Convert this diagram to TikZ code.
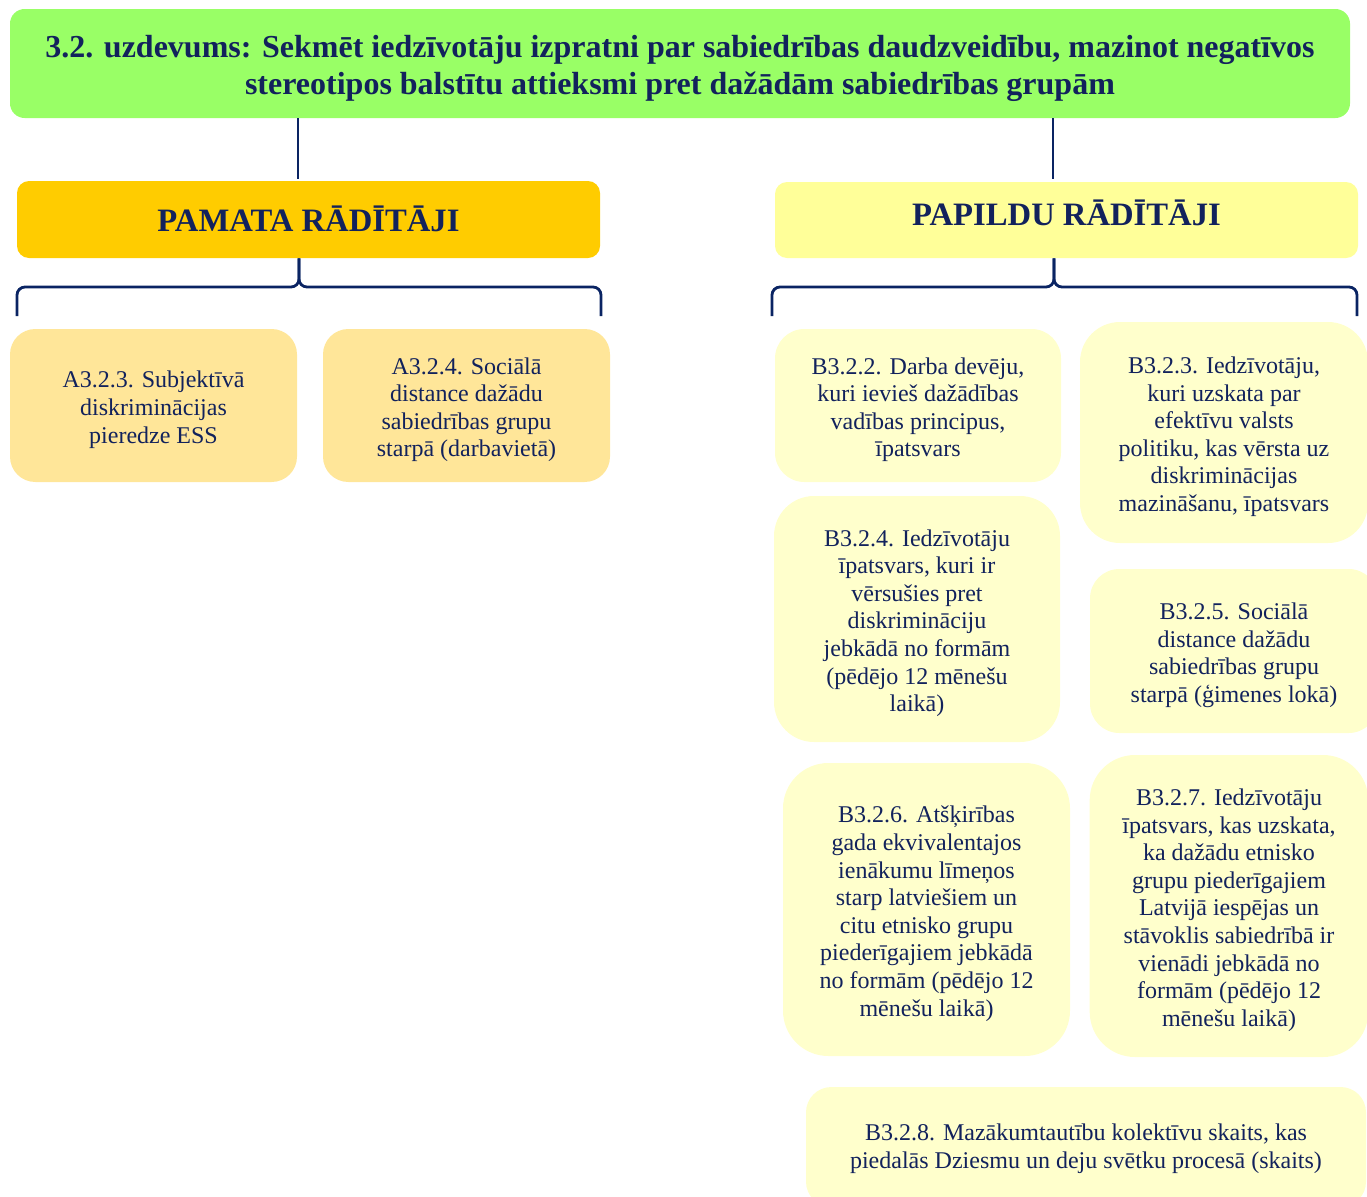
\documentclass[tikz,border=0pt]{standalone}
\usepackage{fontspec}
\setmainfont{Liberation Serif}
\definecolor{navy}{HTML}{12225C}
\definecolor{linec}{HTML}{0A2463}
\definecolor{titlegreen}{HTML}{99FF66}
\definecolor{pamfill}{HTML}{FFCC00}
\definecolor{papfill}{HTML}{FFFF99}
\definecolor{afill}{HTML}{FFE699}
\definecolor{bfill}{HTML}{FFFFCC}
% lines of a box, moved down a little without changing the box size
\newcommand{\txt}[2][-3.3pt]{\raisebox{#1}[\height][\depth]{\begin{tabular}{@{}c@{}}#2\end{tabular}}}
\begin{document}
\begin{tikzpicture}[x=0.75pt,y=-0.75pt,
  base/.style={inner sep=0pt, text=navy, font=\fontsize{18}{20.7}\selectfont},
  titlebox/.style={base, fill=titlegreen, rounded corners=11pt, font=\bfseries\fontsize{24}{27.75}\selectfont},
  headbox/.style={base, rounded corners=9pt, font=\bfseries\fontsize{24.5}{28}\selectfont},
  abox/.style={base, fill=afill, rounded corners=19pt},
  bbox/.style={base, fill=bfill, rounded corners=#1},
  bbox/.default=26pt,
  link/.style={draw=linec, line width=2.1pt},
  bracepath/.style={link, rounded corners=6pt}]
\useasboundingbox (0,0) rectangle (1367,1196);

\node[titlebox, minimum width=1005pt, minimum height=81.75pt] (title) at (680,63.5)
  {\txt[-3.5pt]{3.2. uzdevums: Sekmēt iedzīvotāju izpratni par sabiedrības daudzveidību, mazinot negatīvos\\
   stereotipos balstītu attieksmi pret dažādām sabiedrības grupām}};

\node[headbox, fill=pamfill, minimum width=437.25pt, minimum height=57.75pt] (pam) at (308.5,219.5)
  {\txt[-3.75pt]{PAMATA RĀDĪTĀJI}};
\node[headbox, fill=papfill, minimum width=437.25pt, minimum height=57pt] (pap) at (1066.5,220)
  {\txt[1.3pt]{PAPILDU RĀDĪTĀJI}};

\coordinate (cl) at (298,0);
\coordinate (cr) at (1053,0);
\coordinate (bl) at (299,0);
\coordinate (br) at (1054,0);
\draw[link] (title.south -| cl) -- ([yshift=1.5pt]pam.north -| cl);
\draw[link] (title.south -| cr) -- ([yshift=2.25pt]pap.north -| cr);

% braces
\coordinate (lbl) at (17,316);
\coordinate (lbr) at (601,316);
\coordinate (rbl) at (772,316);
\coordinate (rbr) at (1357,316);
\draw[bracepath] (pam.south -| bl) -- (299,287) -- (17,287) -- (lbl);
\draw[bracepath] (pam.south -| bl) -- (299,287) -- (601,287) -- (lbr);
\draw[bracepath] (pap.south -| br) -- (1054,287) -- (772,287) -- (rbl);
\draw[bracepath] (pap.south -| br) -- (1054,287) -- (1357,287) -- (rbr);

\node[abox, minimum width=215.25pt, minimum height=114.75pt] (a1) at (153.5,405.5)
  {\txt{A3.2.3. Subjektīvā\\diskriminācijas\\pieredze ESS}};
\node[abox, minimum width=215.25pt, minimum height=114.75pt] (a2) at (466.5,405.5)
  {\txt{A3.2.4. Sociālā\\distance dažādu\\sabiedrības grupu\\starpā (darbavietā)}};

\node[bbox=22pt, minimum width=214.5pt, minimum height=114.75pt] (b2) at (918,405.5)
  {\txt{B3.2.2. Darba devēju,\\kuri ievieš dažādības\\vadības principus,\\īpatsvars}};
\node[bbox=30pt, minimum width=216pt, minimum height=165.75pt] (b3) at (1224,432.5)
  {\txt{B3.2.3. Iedzīvotāju,\\kuri uzskata par\\efektīvu valsts\\politiku, kas vērsta uz\\diskriminācijas\\mazināšanu, īpatsvars}};
\node[bbox=30pt, minimum width=214.5pt, minimum height=184.5pt] (b4) at (917,619)
  {\txt{B3.2.4. Iedzīvotāju\\īpatsvars, kuri ir\\vērsušies pret\\diskrimināciju\\jebkādā no formām\\(pēdējo 12 mēnešu\\laikā)}};
\node[bbox=22pt, minimum width=216pt, minimum height=123pt] (b5) at (1234,651)
  {\txt{B3.2.5. Sociālā\\distance dažādu\\sabiedrības grupu\\starpā (ģimenes lokā)}};
\node[bbox=34pt, minimum width=215.25pt, minimum height=219.75pt] (b6) at (926.5,909.5)
  {\txt{B3.2.6. Atšķirības\\gada ekvivalentajos\\ienākumu līmeņos\\starp latviešiem un\\citu etnisko grupu\\piederīgajiem jebkādā\\no formām (pēdējo 12\\mēnešu laikā)}};
\node[bbox=34pt, minimum width=209pt, minimum height=226.5pt] (b7) at (1229,906)
  {\txt{B3.2.7. Iedzīvotāju\\īpatsvars, kas uzskata,\\ka dažādu etnisko\\grupu piederīgajiem\\Latvijā iespējas un\\stāvoklis sabiedrībā ir\\vienādi jebkādā no\\formām (pēdējo 12\\mēnešu laikā)}};
\node[bbox=19pt, minimum width=420pt, minimum height=90pt] (b8) at (1086,1147)
  {\txt[-1.5pt]{B3.2.8. Mazākumtautību kolektīvu skaits, kas\\piedalās Dziesmu un deju svētku procesā (skaits)}};
\end{tikzpicture}
\end{document}
